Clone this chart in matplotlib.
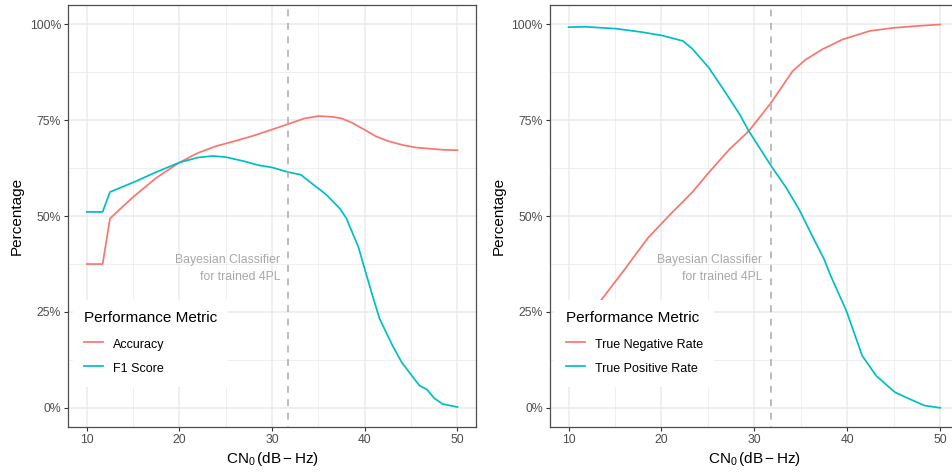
import matplotlib
matplotlib.use("Agg")
import matplotlib.pyplot as plt
from matplotlib.ticker import FixedLocator, FuncFormatter

plt.rcParams['font.family'] = ['Liberation Sans', 'DejaVu Sans']
plt.rcParams['mathtext.fontset'] = 'custom'
plt.rcParams['mathtext.rm'] = 'Liberation Sans'
plt.rcParams['mathtext.it'] = 'Liberation Sans:italic'

# ---- Data ----
acc_x = [10, 11.7, 12.5, 15, 17.5, 20, 22, 24, 26, 28, 30, 31.7, 33.5, 35, 36.5, 37.5,
         38.5, 40, 41.2, 42.5, 44, 45.5, 47, 48.5, 50]
acc_y = [37.5, 37.5, 49.4, 55, 60, 64, 66.5, 68.3, 69.6, 71, 72.6, 74, 75.5, 76.1, 75.9,
         75.5, 74.5, 72.5, 70.8, 69.6, 68.6, 67.9, 67.6, 67.3, 67.2]

f1_x = [10, 11.7, 12.5, 15, 17.5, 20, 22, 23.6, 25, 27, 28.5, 30, 31.7, 33.1, 34.4, 35.8,
        37.3, 38, 38.5, 39.3, 40.1, 40.8, 41.6, 43, 44, 45.2, 45.9, 46.7, 47.5, 48.4, 50]
f1_y = [51.1, 51.1, 56.3, 58.8, 61.5, 64, 65.3, 65.7, 65.4, 64.3, 63.3, 62.7, 61.5, 60.8,
        58.3, 55.7, 52, 49.5, 46.6, 42, 35.3, 29.5, 23.2, 16.2, 11.8, 8, 5.8, 4.8, 2.5, 1, 0.2]

tnr_x = [10, 12, 13.6, 16, 18.5, 20.8, 23.3, 25.1, 27.3, 29.4, 31.8, 34.1, 35.5, 37.3,
         39.5, 42.4, 44.9, 47.5, 50]
tnr_y = [17, 23.5, 28.4, 36, 44.2, 50.1, 56.2, 61.4, 67.4, 72.2, 79.6, 87.8, 90.8, 93.5,
         96.1, 98.3, 99.1, 99.6, 100]

tpr_x = [10, 11.8, 15.1, 17.9, 20.1, 22.3, 23.3, 25.1, 26.9, 28.4, 29.4, 31.8, 33.4, 34.8,
         36.4, 37.5, 38.2, 39.9, 41.6, 43.1, 45.1, 46.7, 48.3, 50]
tpr_y = [99.3, 99.4, 98.9, 98, 97.1, 95.7, 93.7, 88.7, 82.2, 76.6, 72.2, 63.1, 57.5, 51.8,
         44, 38.8, 34.5, 25.3, 13.6, 8.4, 4.1, 2.3, 0.6, 0]

threshold = 31.75
x_major = [10, 20, 30, 40, 50]
x_minor = [15, 25, 35, 45]
y_major = [0, 25, 50, 75, 100]
y_minor = [12.5, 37.5, 62.5, 87.5]
legend_title = "Performance Metric"
annot_lines = ["Bayesian Classifier", "for trained 4PL"]

panels = [
    ([(acc_x, acc_y, "Accuracy"), (f1_x, f1_y, "F1 Score")]),
    ([(tnr_x, tnr_y, "True Negative Rate"), (tpr_x, tpr_y, "True Positive Rate")]),
]
colors = ["#F8766D", "#00BFC4"]

W, H = 952, 473
fig = plt.figure(figsize=(W / 100, H / 100), dpi=100)
positions = [
    [68.3 / W, 1 - 427 / H, (476 - 68.3) / W, (427 - 5.3) / H],
    [550 / W, 1 - 427 / H, (958.8 - 550) / W, (427 - 5.3) / H],
]

for pos, series in zip(positions, panels):
    ax = fig.add_axes(pos)
    axw = pos[2] * W
    ax.set_xlim(8, 52)
    ax.set_ylim(-5, 105)
    ax.xaxis.set_major_locator(FixedLocator(x_major))
    ax.xaxis.set_minor_locator(FixedLocator(x_minor))
    ax.yaxis.set_major_locator(FixedLocator(y_major))
    ax.yaxis.set_minor_locator(FixedLocator(y_minor))
    ax.yaxis.set_major_formatter(FuncFormatter(lambda v, p: f"{v:.0f}%"))
    ax.grid(which='major', color='#EBEBEB', lw=1.1, zorder=0)
    ax.grid(which='minor', color='#EBEBEB', lw=0.55, zorder=0)
    ax.set_axisbelow(True)
    ax.tick_params(which='major', length=3, width=0.8, color='#333333',
                   labelsize=8.8, labelcolor='#4D4D4D', pad=2.2)
    ax.tick_params(which='minor', length=0)
    for sp in ax.spines.values():
        sp.set_color('#4D4D4D')
        sp.set_linewidth(0.9)
    for (xs, ys, lab), c in zip(series, colors):
        ax.plot(xs, ys, color=c, lw=1.25, label=lab, zorder=3)
    ax.axvline(threshold, color='#AAAAAA', lw=1.1, linestyle=(4, (4.5, 4.3)), zorder=3)
    ax.text(threshold - 0.9, 38.6, annot_lines[0], ha='right', va='center',
            fontsize=8.8, color='#A8A8A8')
    ax.text(threshold - 0.85, 34.2, annot_lines[1], ha='right', va='center',
            fontsize=8.8, color='#A8A8A8')
    ax.set_xlabel(r'$\mathrm{CN}_\mathrm{0}\,(\mathrm{dB}-\mathrm{Hz})$', fontsize=11,
                  labelpad=3)
    ax.set_ylabel('Percentage', fontsize=11, labelpad=4)
    leg = ax.legend(loc='lower left', bbox_to_anchor=(4.4 / axw, 0.0949), frameon=True,
                    fancybox=False, facecolor='white', edgecolor='none', framealpha=1,
                    title=legend_title, title_fontsize=11, fontsize=9,
                    handlelength=1.55, handleheight=1.6, handletextpad=0.8,
                    labelspacing=0.62, borderpad=0.9, borderaxespad=0)
    leg._legend_box.align = 'left'
    leg._legend_box.sep = 7.8
    leg.set_zorder(5)

fig.savefig('out.png', dpi=100)
